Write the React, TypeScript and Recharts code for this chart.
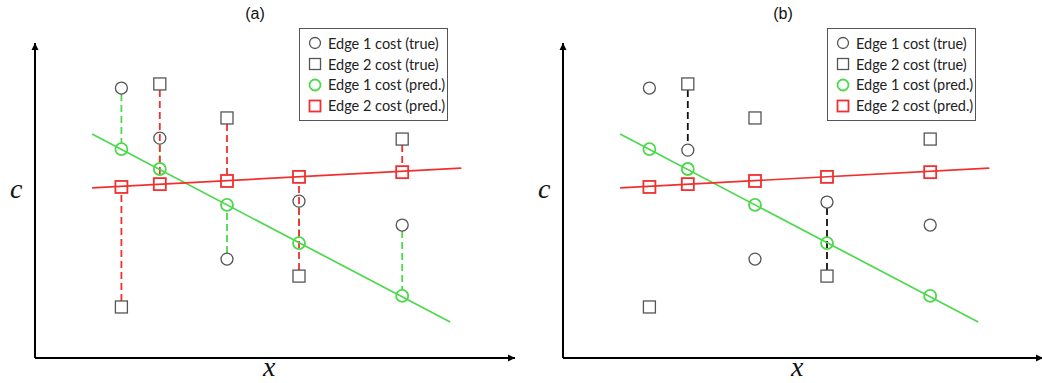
import React from 'react';
import { ScatterChart, Scatter, XAxis, YAxis, ReferenceLine } from 'recharts';

// sample positions along x and the true / predicted costs of both edges
const xPositions = [1.8, 2.6, 4.0, 5.5, 7.65];
const edge1True = [8.57, 6.98, 3.14, 4.98, 4.22];
const edge1TrueB = [8.57, 6.6, 3.14, 4.95, 4.22];
const edge2True = [1.62, 8.7, 7.62, 2.6, 6.95];
const edge1Pred = [6.63, 6.0, 4.86, 3.65, 1.97];
const edge2Pred = [5.43, 5.52, 5.62, 5.75, 5.9];

// fitted regression lines (start / end)
const edge1FitX = [1.19, 8.65];
const edge1FitC = [7.11, 1.14];
const edge2FitX = [1.19, 8.88];
const edge2FitC = [5.4, 6.03];

// samples where the wrong edge is chosen in panel (b)
const decisionIdx = [1, 3];

const legendLabels = [
  'Edge 1 cost (true)',
  'Edge 2 cost (true)',
  'Edge 1 cost (pred.)',
  'Edge 2 cost (pred.)',
];

const GRAY = '#555555';
const GREEN = '#4cd94c';
const RED = '#f0302f';
const R = 6;

const toPoints = (ys: number[]) => xPositions.map((x, i) => ({ x, c: ys[i] }));

const circleShape = (stroke: string, width: number) => (p: any) => (
  <circle cx={p.cx} cy={p.cy} r={R} fill="none" stroke={stroke} strokeWidth={width} />
);
const squareShape = (stroke: string, width: number) => (p: any) => (
  <rect x={p.cx - R} y={p.cy - R} width={2 * R} height={2 * R} fill="none" stroke={stroke} strokeWidth={width} />
);

// dashed connector trimmed so it runs from marker edge to marker edge
const trimmedLine = (p: any) => {
  const dir = p.y2 > p.y1 ? 1 : -1;
  return (
    <line
      x1={p.x1}
      x2={p.x2}
      y1={p.y1 + dir * R}
      y2={p.y2 - dir * R}
      stroke={p.stroke}
      strokeWidth={p.strokeWidth}
      strokeDasharray={p.strokeDasharray}
    />
  );
};

const arrowLine = (p: any) => {
  const horizontal = Math.abs(p.y2 - p.y1) < 1;
  const head = horizontal
    ? `${p.x2},${p.y2} ${p.x2 - 7},${p.y2 - 3.5} ${p.x2 - 7},${p.y2 + 3.5}`
    : `${p.x2},${p.y2} ${p.x2 - 3.5},${p.y2 + 7} ${p.x2 + 3.5},${p.y2 + 7}`;
  return (
    <g>
      <line x1={p.x1} y1={p.y1} x2={p.x2} y2={p.y2} stroke="#000" strokeWidth={2} />
      <polygon points={head} fill="#000" />
    </g>
  );
};

type Connector = { x: number; from: number; to: number; color: string };

const axisLabel = { font: 'italic 28px/20px "Liberation Serif", serif', color: '#111' };

const Panel = ({ label, connectors, circles }: { label: string; connectors: Connector[]; circles: number[] }) => (
  <div style={{ position: 'absolute', top: 0, width: 528, height: 383 }}>
    <ScatterChart width={528} height={383} margin={{ top: 43, right: 13, bottom: 25, left: 35 }}>
      <XAxis type="number" dataKey="x" domain={[0, 10]} hide />
      <YAxis type="number" dataKey="c" domain={[0, 10]} hide />
      <ReferenceLine segment={[{ x: 0, y: 0 }, { x: 10, y: 0 }]} ifOverflow="visible" shape={arrowLine} />
      <ReferenceLine segment={[{ x: 0, y: 0 }, { x: 0, y: 10 }]} ifOverflow="visible" shape={arrowLine} />
      {connectors.map((c, i) => (
        <ReferenceLine
          key={i}
          segment={[{ x: c.x, y: c.from }, { x: c.x, y: c.to }]}
          stroke={c.color}
          strokeWidth={1.8}
          strokeDasharray="7 4"
          ifOverflow="visible"
          shape={trimmedLine}
        />
      ))}
      <ReferenceLine
        segment={[{ x: edge1FitX[0], y: edge1FitC[0] }, { x: edge1FitX[1], y: edge1FitC[1] }]}
        stroke={GREEN}
        strokeWidth={1.7}
        ifOverflow="visible"
      />
      <ReferenceLine
        segment={[{ x: edge2FitX[0], y: edge2FitC[0] }, { x: edge2FitX[1], y: edge2FitC[1] }]}
        stroke={RED}
        strokeWidth={1.7}
        ifOverflow="visible"
      />
      <Scatter data={toPoints(circles)} shape={circleShape(GRAY, 1.3)} isAnimationActive={false} />
      <Scatter data={toPoints(edge2True)} shape={squareShape(GRAY, 1.3)} isAnimationActive={false} />
      <Scatter data={toPoints(edge1Pred)} shape={circleShape(GREEN, 1.8)} isAnimationActive={false} />
      <Scatter data={toPoints(edge2Pred)} shape={squareShape(RED, 1.8)} isAnimationActive={false} />
    </ScatterChart>
    <div style={{ position: 'absolute', left: 0, width: 510, top: 5, textAlign: 'center', font: '16px "Liberation Sans", Arial, sans-serif', color: '#111' }}>
      {label}
    </div>
    <div style={{ position: 'absolute', left: 10, top: 179, ...axisLabel }}>c</div>
    <div style={{ position: 'absolute', left: 263, top: 357, ...axisLabel }}>x</div>
    <div
      style={{
        position: 'absolute',
        left: 299,
        top: 28,
        width: 149,
        height: 93,
        border: '1.5px solid #555',
        background: '#fff',
        boxSizing: 'border-box',
        padding: '4px 0 0 8px',
      }}
    >
      {legendLabels.map((t, i) => (
        <div key={t} style={{ display: 'flex', alignItems: 'center', height: 20.8, font: '14.5px Lato, sans-serif', color: '#222', whiteSpace: 'nowrap' }}>
          <svg width={16} height={14} style={{ marginRight: 4 }}>
            {i % 2 === 0 ? (
              <circle cx={7} cy={7} r={5.5} fill="none" stroke={[GRAY, GRAY, GREEN, RED][i]} strokeWidth={i < 2 ? 1.3 : 1.8} />
            ) : (
              <rect x={1.5} y={1.5} width={11} height={11} fill="none" stroke={[GRAY, GRAY, GREEN, RED][i]} strokeWidth={i < 2 ? 1.3 : 1.8} />
            )}
          </svg>
          {t}
        </div>
      ))}
    </div>
  </div>
);

const residualConnectors: Connector[] = xPositions.flatMap((x, i) => [
  { x, from: edge1True[i], to: edge1Pred[i], color: GREEN },
  { x, from: edge2True[i], to: edge2Pred[i], color: RED },
]);

const decisionConnectors: Connector[] = decisionIdx.map((i) => ({
  x: xPositions[i],
  from: edge2True[i],
  to: edge1TrueB[i],
  color: '#111',
}));

export default function App() {
  return (
    <div style={{ position: 'absolute', left: 0, top: 0, width: 1042, height: 383, overflow: 'hidden', background: '#fff' }}>
      <div style={{ position: 'absolute', left: 0, top: 0 }}>
        <Panel label="(a)" connectors={residualConnectors} circles={edge1True} />
      </div>
      <div style={{ position: 'absolute', left: 528, top: 0 }}>
        <Panel label="(b)" connectors={decisionConnectors} circles={edge1TrueB} />
      </div>
    </div>
  );
}
